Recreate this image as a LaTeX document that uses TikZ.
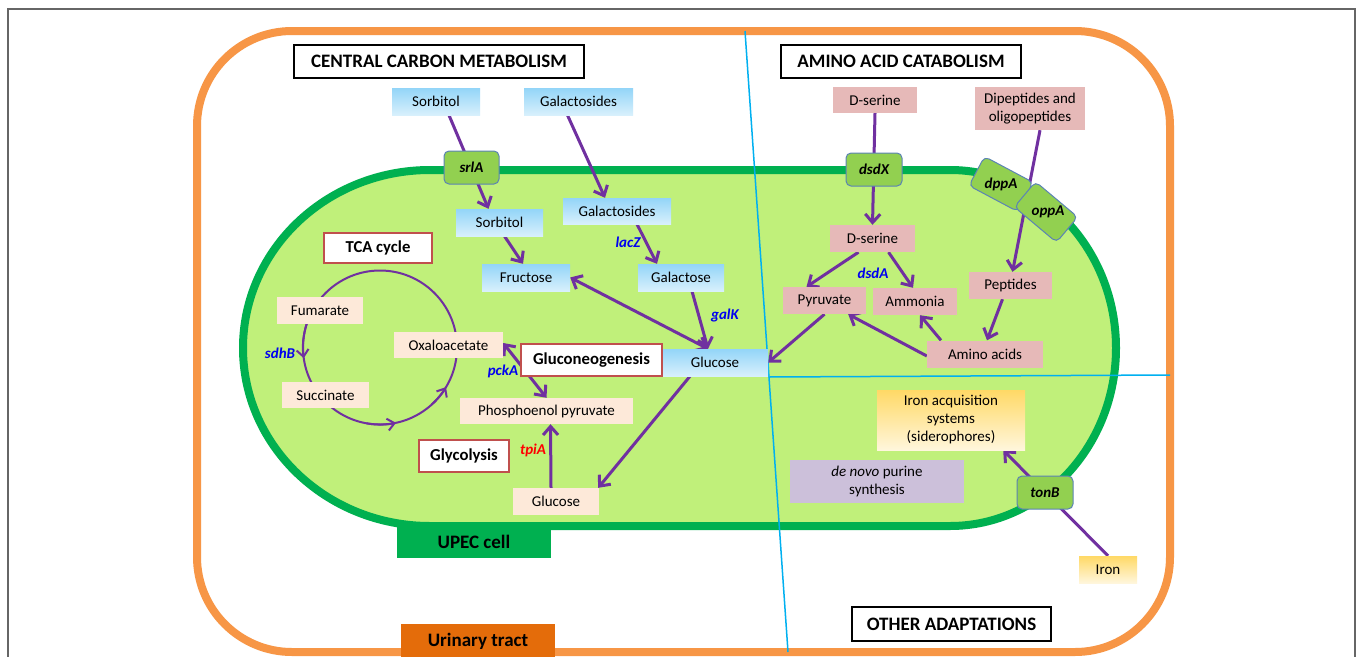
\documentclass[tikz,border=0pt]{standalone}
\usepackage{fontspec}
\setmainfont{Carlito}
\usetikzlibrary{arrows.meta}
\pgfdeclarelayer{bg}\pgfdeclarelayer{mid}\pgfsetlayers{bg,mid,main}
\definecolor{orangeB}{HTML}{F79646}
\definecolor{cellG}{HTML}{00B050}
\definecolor{cellFill}{RGB}{192,240,122}
\definecolor{divBlue}{HTML}{00B0F0}
\definecolor{arrC}{HTML}{7030A0}
\definecolor{blueTop}{HTML}{93D5F8}
\definecolor{blueBot}{HTML}{D8F0FC}
\definecolor{pinkC}{HTML}{E6B9B8}
\definecolor{beigeC}{HTML}{FDE9D9}
\definecolor{redC}{HTML}{C0504D}
\definecolor{geneFill}{HTML}{92D050}
\definecolor{geneDraw}{HTML}{5B83B5}
\definecolor{yelTop}{HTML}{FFD966}
\definecolor{yelBot}{HTML}{FFF6DC}
\definecolor{purpC}{HTML}{CCC0DA}
\definecolor{urinC}{HTML}{E46C0A}
\definecolor{labBlue}{HTML}{0000F0}
\definecolor{frameC}{HTML}{666666}
\begin{document}
\begin{tikzpicture}[x=1pt,y=-1pt,
  base/.style={inner sep=0pt, align=center, text=black, font=\fontsize{15}{18}\selectfont},
  bluebox/.style={base, top color=blueTop, bottom color=blueBot},
  pinkbox/.style={base, fill=pinkC},
  beigebox/.style={base, fill=beigeC},
  yelbox/.style={base, top color=yelTop, bottom color=yelBot},
  purpbox/.style={base, fill=purpC},
  genebox/.style={base, rounded corners=5pt, fill=geneFill, draw=geneDraw, line width=1pt,
    minimum width=55, minimum height=33, font=\fontsize{15}{18}\selectfont\bfseries\itshape},
  genetext/.style={inner sep=0pt, text=black, font=\fontsize{15}{18}\selectfont\bfseries\itshape},
  redbox/.style={base, fill=white, draw=redC, line width=2.5pt, font=\fontsize{16.7}{19}\selectfont\bfseries},
  header/.style={base, fill=white, draw=black, line width=2.5pt, font=\fontsize{19}{21}\selectfont\bfseries},
  tagbox/.style={base, font=\fontsize{19}{21}\selectfont\bfseries},
  genelab/.style={inner sep=0pt, text=labBlue, font=\fontsize{15}{18}\selectfont\bfseries\itshape},
  arr/.style={draw=arrC, line width=3pt, -{Straight Barb[length=8.5pt,width=15pt]}},
  dbl/.style={draw=arrC, line width=3pt, {Straight Barb[length=8.5pt,width=15pt]}-{Straight Barb[length=8.5pt,width=15pt]}},
  tcaline/.style={draw=arrC, line width=2pt},
  tcaarr/.style={draw=arrC, line width=2pt, -{Straight Barb[length=7pt,width=12pt]}},
  divline/.style={draw=divBlue, line width=1.5pt}
]
\useasboundingbox (0,0) rectangle (1357,656);

\begin{pgfonlayer}{bg}
  \fill[white] (0,0) rectangle (1357,656);
  \draw[frameC, line width=2pt] (8,9) rectangle (1355,690);
  \draw[orangeB, line width=8pt, rounded corners=95pt] (197,31) rectangle (1170,652);
  \path[fill=cellFill, draw=cellG, line width=8pt]
    (430,170) -- (950,170) arc[start angle=-90,end angle=90,x radius=166,y radius=178]
    -- (430,526) arc[start angle=90,end angle=270,x radius=187,y radius=178] -- cycle;
  \coordinate (vTop) at (745,31);
  \coordinate (vBot) at (788,652);
  \coordinate (hL) at (769,377);
  \coordinate (hR) at (1170,375);
  \draw[divline] (vTop) -- (vBot);
  \draw[divline] (hL) -- (hR);
\end{pgfonlayer}

% headers
\node[header, minimum width=290, minimum height=33] (ccm) at (439,61.5) {CENTRAL CARBON METABOLISM};
\node[header, minimum width=240, minimum height=33] (aac) at (901,61.5) {AMINO ACID CATABOLISM};
\node[header, minimum width=199, minimum height=34] (oth) at (951.5,624) {OTHER ADAPTATIONS};

% tags
\node[tagbox, fill=cellG, minimum width=154, minimum height=32] (upec) at (474,542) {UPEC cell};
\node[tagbox, fill=urinC, minimum width=154, minimum height=34] (urin) at (478,641) {Urinary tract};

% blue boxes
\node[bluebox, minimum width=88, minimum height=27] (sorbOut) at (436,101.5) {Sorbitol};
\node[bluebox, minimum width=109, minimum height=27] (galOut) at (578.5,101.5) {Galactosides};
\node[bluebox, minimum width=87, minimum height=27] (sorbIn) at (499.5,222.5) {Sorbitol};
\node[bluebox, minimum width=108, minimum height=26] (galIn) at (617,211) {Galactosides};
\node[bluebox, minimum width=88, minimum height=27] (fruc) at (526,277.5) {Fructose};
\node[bluebox, minimum width=86, minimum height=27] (galac) at (681,277.5) {Galactose};
\node[bluebox, minimum width=106, minimum height=27] (glcB) at (715,362.5) {Glucose};

% beige boxes
\node[beigebox, minimum width=86, minimum height=27] (fum) at (320,310.5) {Fumarate};
\node[beigebox, minimum width=87, minimum height=26] (succ) at (325.5,395) {Succinate};
\node[beigebox, minimum width=109, minimum height=26] (oxa) at (448.5,345) {Oxaloacetate};
\node[beigebox, minimum width=173, minimum height=26] (pep) at (546.5,411) {Phosphoenol pyruvate};
\node[beigebox, minimum width=86, minimum height=27] (glcBot) at (556,501.5) {Glucose};

% red boxes
\node[redbox, minimum width=108, minimum height=30] (tca) at (378,248) {TCA cycle};
\node[redbox, minimum width=141, minimum height=32] (glucon) at (591.5,360) {Gluconeogenesis};
\node[redbox, minimum width=90, minimum height=32] (glyco) at (464,456) {Glycolysis};

% pink boxes
\node[pinkbox, minimum width=84, minimum height=26] (dserOut) at (875,100) {D-serine};
\node[pinkbox, minimum width=110, minimum height=43] (dipep) at (1030,108.5) {Dipeptides and\\oligopeptides};
\node[pinkbox, minimum width=85, minimum height=27] (dserIn) at (872.5,238.5) {D-serine};
\node[pinkbox, minimum width=83, minimum height=27] (pyr) at (824.5,300.5) {Pyruvate};
\node[pinkbox, minimum width=84, minimum height=27] (amm) at (915,301.5) {Ammonia};
\node[pinkbox, minimum width=83, minimum height=27] (pept) at (1010.5,285.5) {Peptides};
\node[pinkbox, minimum width=116, minimum height=27] (amino) at (985,354) {Amino acids};

% other adaptations
\node[yelbox, minimum width=148, minimum height=60] (ironAcq) at (951,420) {Iron acquisition\\systems\\(siderophores)};
\node[yelbox, minimum width=58, minimum height=27] (iron) at (1108,569.5) {Iron};
\node[purpbox, minimum width=174, minimum height=43] (denovo) at (877,481.5) {\textit{de novo} purine\\synthesis};

% gene boxes
\node[genebox] (srlA) at (471.5,167.5) {srlA};
\node[genebox, minimum width=56] (dsdX) at (874,169.5) {dsdX};
\node[genebox, rotate=-28] (dppA) at (1001,184) {};
\node[genetext] (dppAt) at (dppA.center) {dppA};
\node[genebox, rotate=-40] (oppA) at (1046,212) {};
\node[genetext] (oppAt) at ([xshift=2pt]oppA.center) {oppA};
\node[genebox, minimum width=56] (tonB) at (1045,492.5) {tonB};

% gene labels
\node[genelab] (lacZ) at (628,242) {lacZ};
\node[genelab] (galK) at (725,315) {galK};
\node[genelab] (sdhB) at (280,353) {sdhB};
\node[genelab] (pckA) at (503,371) {pckA};
\node[genelab, text=red] (tpiA) at (533,450) {tpiA};
\node[genelab] (dsdA) at (873,273) {dsdA};

\begin{pgfonlayer}{mid}
  % TCA cycle
  \coordinate (tcaC) at (380,347.5);
  \draw[tcaline] (tcaC) circle[radius=77];
  \draw[tcaarr] ([shift={(198:77)}]tcaC) arc[start angle=198,end angle=172,radius=77];
  \draw[tcaarr] ([shift={(100:77)}]tcaC) arc[start angle=100,end angle=78,radius=77];
  \draw[tcaarr] ([shift={(48:77)}]tcaC) arc[start angle=48,end angle=31,radius=77];
  % carbon
  \draw[arr] ([xshift=13pt]sorbOut.south) -- ([xshift=-11pt]sorbIn.north);
  \draw[arr] ([xshift=-11pt]galOut.south) -- ([xshift=-12pt]galIn.north);
  \draw[arr] ([xshift=5pt]sorbIn.south) -- ([xshift=-3pt]fruc.north);
  \draw[arr] ([xshift=20pt]galIn.south) -- ([xshift=-24pt]galac.north);
  \draw[arr] ([xshift=11pt]galac.south) -- ([xshift=-7pt]glcB.north);
  \draw[dbl] (fruc.east) -- ([xshift=-7pt]glcB.north);
  \draw[arr] ([xshift=-25pt]glcB.south) -- ([xshift=-1pt]glcBot.north east);
  \draw[arr] ([xshift=-5pt]glcBot.north) -- ([xshift=4pt]pep.south);
  \draw[dbl] ([yshift=2pt]oxa.east) -- (pep.north);
  % amino acids
  \draw[arr] (dserOut.south) -- (dserIn.north);
  \draw[arr] ([xshift=-14pt]dserIn.south) -- ([xshift=-18pt]pyr.north);
  \draw[arr] ([xshift=16pt]dserIn.south) -- ([xshift=-2pt]amm.north);
  \draw[arr] ([yshift=-2pt]amino.west) -- ([xshift=-18pt]pyr.south east);
  \draw[arr] ([xshift=-44pt]amino.north) -- ([xshift=5pt]amm.south);
  \draw[arr] ([xshift=-8pt]pept.south) -- ([xshift=2pt]amino.north);
  \draw[arr] ([xshift=10pt]dipep.south) -- ([xshift=2pt]pept.north);
  \draw[arr] (pyr.south) -- (glcB.east);
  % iron
  \draw[arr] (iron.north) -- ([xshift=-22pt]ironAcq.south east);
\end{pgfonlayer}
\end{tikzpicture}
\end{document}
